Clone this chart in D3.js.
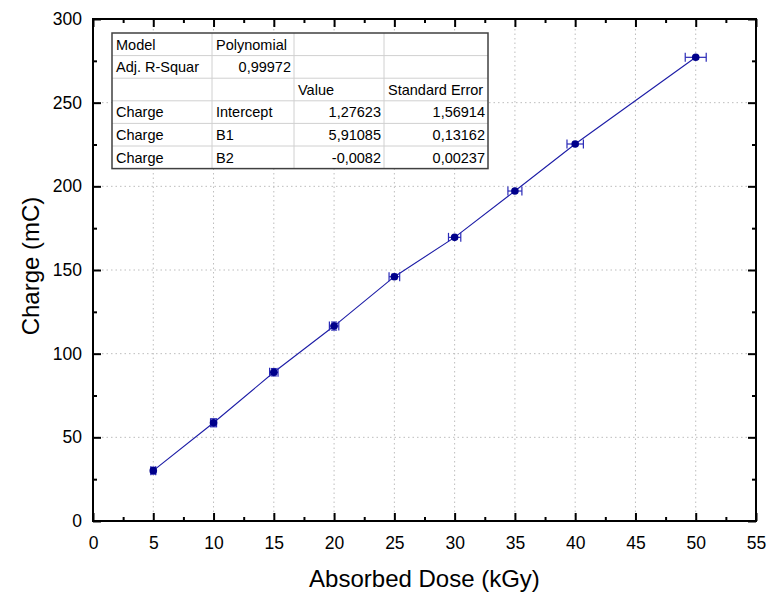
<!DOCTYPE html>
<html>
<head>
<meta charset="utf-8">
<script src="https://cdnjs.cloudflare.com/ajax/libs/d3/7.8.5/d3.min.js"></script>
<style>
  body { margin: 0; background: #fff; }
  svg { font-family: Arial, 'Liberation Sans', sans-serif; }
</style>
</head>
<body>
<div id="chart"></div>
<script>
// measured data: absorbed dose (kGy) vs charge (mC)
let dose = [5, 10, 15, 20, 25, 30, 35, 40, 50]
let charge = [30.1, 58.7, 88.9, 116.5, 146.0, 169.5, 197.2, 225.3, 277.1]
let doseErr = [0.2, 0.25, 0.35, 0.39, 0.44, 0.51, 0.58, 0.68, 0.87]
let chargeErr = [2.0, 2.4, 2.2, 2.4, 1.5, 1.0, 1.0, 1.0, 1.0]

let xTicks = [0, 5, 10, 15, 20, 25, 30, 35, 40, 45, 50, 55]
let yTicks = [0, 50, 100, 150, 200, 250, 300]

// fit table
let tableCol1 = ['Model', 'Adj. R-Squar', '', 'Charge', 'Charge', 'Charge']
let tableCol2 = ['Polynomial', '0,99972', '', 'Intercept', 'B1', 'B2']
let tableCol3 = ['', '', 'Value', '1,27623', '5,91085', '-0,0082']
let tableCol4 = ['', '', 'Standard Error', '1,56914', '0,13162', '0,00237']

let initChart = () => {
  let width = 770
  let height = 596
  let margin = { left: 93, right: 14, top: 19, bottom: 75 }

  let svg = d3.select('#chart')
    .append('svg')
    .attr('width', width)
    .attr('height', height)

  let x = d3.scaleLinear().domain([0, 55]).range([margin.left, width - margin.right])
  let y = d3.scaleLinear().domain([0, 300]).range([height - margin.bottom, margin.top])

  let x0 = x.range()[0], x1 = x.range()[1]
  let y0 = y.range()[0], y1 = y.range()[1]

  // grid
  let grid = svg.append('g').attr('class', 'grid')
    .attr('stroke', '#bdbdbd')
    .attr('stroke-width', 1)
    .attr('stroke-dasharray', '1.5,3')
  grid.selectAll('line.gx')
    .data(xTicks.filter(d => d > 0 && d < 55))
    .enter().append('line')
    .attr('x1', d => x(d)).attr('x2', d => x(d))
    .attr('y1', y0).attr('y2', y1)
  grid.selectAll('line.gy')
    .data(yTicks.filter(d => d > 0 && d < 300))
    .enter().append('line')
    .attr('x1', x0).attr('x2', x1)
    .attr('y1', d => y(d)).attr('y2', d => y(d))

  let xMinor = d3.range(2.5, 55, 5)
  let yMinor = d3.range(25, 300, 50)

  let styleAxis = g => {
    g.select('.domain').remove()
    g.selectAll('line').attr('stroke', '#000').attr('stroke-width', 2)
    g.selectAll('text').attr('fill', '#000').style('font-size', '17.5px')
  }

  // bottom
  svg.append('g').attr('transform', `translate(0,${y0})`)
    .call(d3.axisBottom(x).tickValues(xTicks).tickSizeInner(-8).tickSizeOuter(0).tickPadding(16).tickFormat(d3.format('d')))
    .call(styleAxis)
  svg.append('g').attr('transform', `translate(0,${y0})`)
    .call(d3.axisBottom(x).tickValues(xMinor).tickSizeInner(-4).tickSizeOuter(0).tickFormat(''))
    .call(styleAxis)
  // top
  svg.append('g').attr('transform', `translate(0,${y1})`)
    .call(d3.axisTop(x).tickValues(xTicks).tickSizeInner(-8).tickSizeOuter(0).tickFormat(''))
    .call(styleAxis)
  svg.append('g').attr('transform', `translate(0,${y1})`)
    .call(d3.axisTop(x).tickValues(xMinor).tickSizeInner(-4).tickSizeOuter(0).tickFormat(''))
    .call(styleAxis)
  // left
  svg.append('g').attr('transform', `translate(${x0},0)`)
    .call(d3.axisLeft(y).tickValues(yTicks).tickSizeInner(-8).tickSizeOuter(0).tickPadding(11).tickFormat(d3.format('d')))
    .call(styleAxis)
  svg.append('g').attr('transform', `translate(${x0},0)`)
    .call(d3.axisLeft(y).tickValues(yMinor).tickSizeInner(-4).tickSizeOuter(0).tickFormat(''))
    .call(styleAxis)
  // right
  svg.append('g').attr('transform', `translate(${x1},0)`)
    .call(d3.axisRight(y).tickValues(yTicks).tickSizeInner(-8).tickSizeOuter(0).tickFormat(''))
    .call(styleAxis)
  svg.append('g').attr('transform', `translate(${x1},0)`)
    .call(d3.axisRight(y).tickValues(yMinor).tickSizeInner(-4).tickSizeOuter(0).tickFormat(''))
    .call(styleAxis)

  // frame
  svg.append('rect')
    .attr('x', x0).attr('y', y1)
    .attr('width', x1 - x0).attr('height', y0 - y1)
    .attr('fill', 'none')
    .attr('stroke', '#000')
    .attr('stroke-width', 2)

  // axis titles
  svg.append('text')
    .attr('x', (x0 + x1) / 2)
    .attr('y', 587)
    .attr('text-anchor', 'middle')
    .style('font-size', '24px')
    .text('Absorbed Dose (kGy)')
  svg.append('text')
    .attr('transform', `translate(39,${(y0 + y1) / 2 - 4}) rotate(-90)`)
    .attr('text-anchor', 'middle')
    .style('font-size', '24px')
    .text('Charge (mC)')

  let points = dose.map((d, i) => ({ x: d, y: charge[i], ex: doseErr[i], ey: chargeErr[i] }))

  // line through points
  svg.append('path')
    .datum(points)
    .attr('fill', 'none')
    .attr('stroke', '#1c1ca6')
    .attr('stroke-width', 1.1)
    .attr('d', d3.line().x(d => x(d.x)).y(d => y(d.y)))

  // error bars
  let eb = svg.append('g').attr('stroke', '#2a2ab8').attr('stroke-width', 1.2)
  let cap = 4.5
  points.forEach(d => {
    let cx = x(d.x), cy = y(d.y)
    let xl = x(d.x - d.ex), xr = x(d.x + d.ex)
    let yt = y(d.y + d.ey), yb = y(d.y - d.ey)
    eb.append('line').attr('x1', xl).attr('x2', xr).attr('y1', cy).attr('y2', cy)
    eb.append('line').attr('x1', xl).attr('x2', xl).attr('y1', cy - cap).attr('y2', cy + cap)
    eb.append('line').attr('x1', xr).attr('x2', xr).attr('y1', cy - cap).attr('y2', cy + cap)
    eb.append('line').attr('x1', cx).attr('x2', cx).attr('y1', yt).attr('y2', yb)
    eb.append('line').attr('x1', cx - 3).attr('x2', cx + 3).attr('y1', yt).attr('y2', yt)
    eb.append('line').attr('x1', cx - 3).attr('x2', cx + 3).attr('y1', yb).attr('y2', yb)
  })

  // markers
  svg.append('g').selectAll('circle')
    .data(points)
    .enter().append('circle')
    .attr('cx', d => x(d.x))
    .attr('cy', d => y(d.y))
    .attr('r', 3.8)
    .attr('fill', '#00008b')

  // fit table
  let colX = [112, 212, 294, 384, 488]
  let rowH = 22.6
  let tTop = 33
  let cols = [tableCol1, tableCol2, tableCol3, tableCol4]
  let rightAligned = (c, r) => (c === 1 && r === 1) || (c >= 2 && r >= 3)
  let tg = svg.append('g').attr('class', 'fit-table')
  tg.append('rect')
    .attr('x', colX[0]).attr('y', tTop)
    .attr('width', colX[4] - colX[0]).attr('height', rowH * 6)
    .attr('fill', '#fff')
  for (let r = 1; r < 6; r++) {
    tg.append('line')
      .attr('x1', colX[0]).attr('x2', colX[4])
      .attr('y1', tTop + r * rowH).attr('y2', tTop + r * rowH)
      .attr('stroke', '#d0d0d0').attr('stroke-width', 1)
  }
  for (let c = 1; c < 4; c++) {
    tg.append('line')
      .attr('x1', colX[c]).attr('x2', colX[c])
      .attr('y1', tTop).attr('y2', tTop + rowH * 6)
      .attr('stroke', '#d0d0d0').attr('stroke-width', 1)
  }
  tg.append('rect')
    .attr('x', colX[0]).attr('y', tTop)
    .attr('width', colX[4] - colX[0]).attr('height', rowH * 6)
    .attr('fill', 'none')
    .attr('stroke', '#404040').attr('stroke-width', 1.5)
  cols.forEach((col, c) => {
    col.forEach((txt, r) => {
      let ra = rightAligned(c, r)
      tg.append('text')
        .attr('x', ra ? colX[c + 1] - 3 : colX[c] + 4)
        .attr('y', tTop + r * rowH + 16.5)
        .attr('text-anchor', ra ? 'end' : 'start')
        .style('font-size', '14.5px')
        .attr('fill', '#000')
        .text(txt)
    })
  })
}

initChart()
</script>
</body>
</html>
